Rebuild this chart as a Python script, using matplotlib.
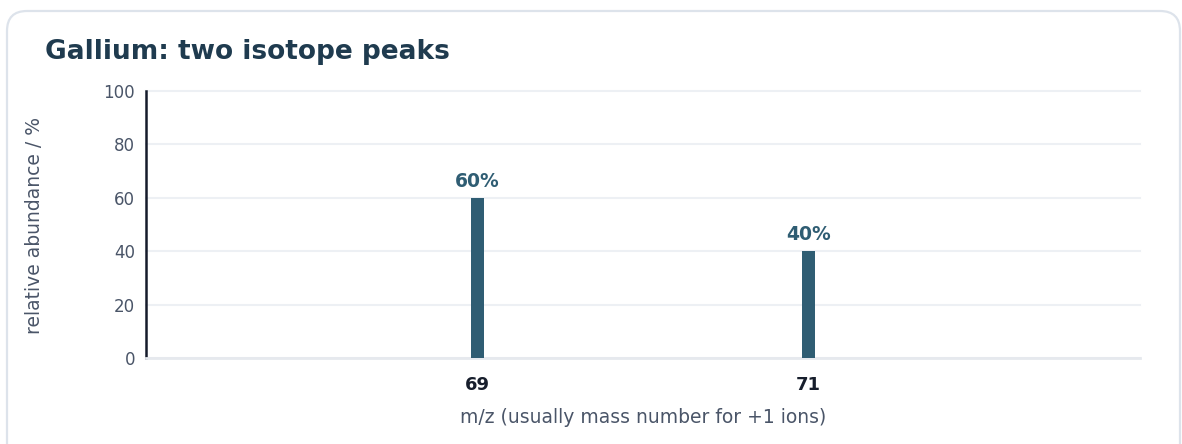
import matplotlib
matplotlib.use("Agg")
import matplotlib.pyplot as plt
from matplotlib.patches import FancyBboxPatch

plt.rcParams['font.family'] = ['DejaVu Sans']

mz = [69, 71]
abundance = [60, 40]
labels = ["60%", "40%"]
yticks = [0, 20, 40, 60, 80, 100]

W, H, DPI = 1182, 444, 100
fig = plt.figure(figsize=(W / DPI, H / DPI), dpi=DPI)
fig.patch.set_facecolor("white")

card = FancyBboxPatch((0.07, -0.4), 11.73, 4.73,
                      boxstyle="round,pad=0,rounding_size=0.2",
                      transform=fig.dpi_scale_trans, facecolor="white",
                      edgecolor="#dde3eb", linewidth=1.6, zorder=-5)
fig.patches.append(card)

ax = fig.add_axes([146 / W, 1 - 358 / H, (1140 - 146) / W, (358 - 91) / H])
ax.set_facecolor("none")
ax.set_zorder(2)

bar_color = "#2f5d73"
ax.bar(mz, abundance, width=0.08, color=bar_color, zorder=3)
for x, v, t in zip(mz, abundance, labels):
    ax.annotate(t, (x, v), xytext=(0, 5), textcoords="offset points",
                ha="center", va="bottom", fontsize=13.5, fontweight="bold",
                color=bar_color)

ax.set_xlim(67, 73)
ax.set_ylim(0, 100)
ax.set_xticks(mz)
ax.set_xticklabels([str(m) for m in mz], fontsize=13, fontweight="bold", color="#171e2c")
ax.set_yticks(yticks)
ax.set_yticklabels([str(t) for t in yticks], fontsize=12, color="#4a5568")
ax.tick_params(axis="x", length=0, pad=13)
ax.tick_params(axis="y", length=0, pad=8)
ax.grid(axis="y", color="#edf0f4", linewidth=1.5, zorder=0)
for gl in ax.get_ygridlines():
    gl.set_clip_on(False)
ax.set_axisbelow(True)
for s in ["top", "right"]:
    ax.spines[s].set_visible(False)
ax.spines["left"].set_color("#151b2b")
ax.spines["left"].set_linewidth(1.8)
ax.spines["bottom"].set_color("#e6e9ee")
ax.spines["bottom"].set_linewidth(2)

fig.text(643 / W, 1 - 417 / H, "m/z (usually mass number for +1 ions)", fontsize=13.5,
         color="#4a5568", ha="center", va="center")
fig.text(35 / W, 1 - 225 / H, "relative abundance / %", fontsize=13.5, rotation=90,
         color="#4a5568", ha="center", va="center")

fig.text(45 / W, 1 - 52 / H, "Gallium: two isotope peaks", fontsize=19, fontweight="bold",
         color="#1f3b4f", ha="left", va="center", zorder=3)

fig.savefig("out.png", dpi=DPI, facecolor="white")
